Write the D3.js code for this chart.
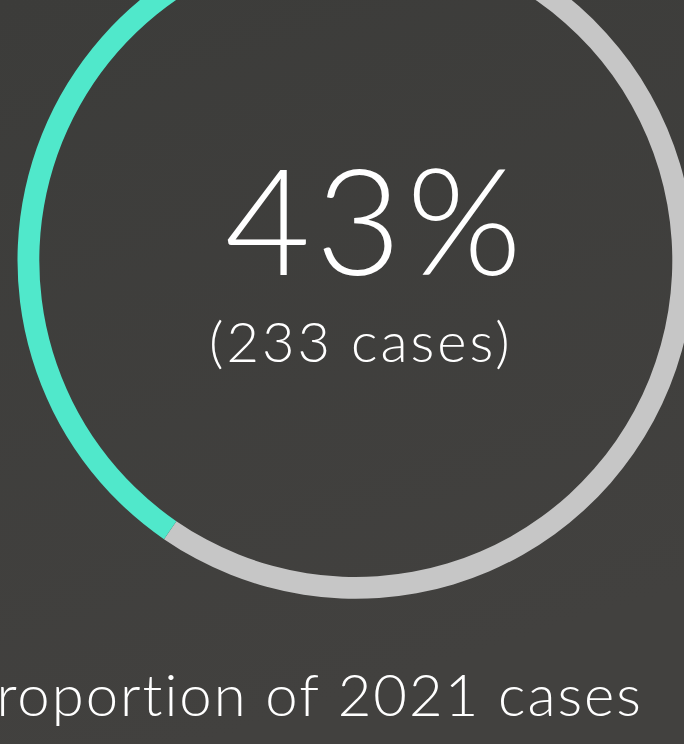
<!DOCTYPE html>
<html>
<head>
<meta charset="utf-8">
<script src="https://cdn.jsdelivr.net/npm/d3@7"></script>
<style>
  html, body { margin: 0; padding: 0; background: #3e3e3c; overflow: hidden; }
  svg { display: block; }
  text { font-family: Lato, "Open Sans", sans-serif; font-weight: 300; fill: #ffffff; font-variant-ligatures: none; }
</style>
</head>
<body>
<svg width="684" height="744"></svg>
<script>
const categories = ["Other cases", "2021 cases"];
const caseCounts = [309, 233];
const colors = ["#c6c6c6", "#50e8cb"];
const bigLabel = "43%";
const subLabel = "(233 cases)";
const caption = "Proportion of 2021 cases";

const svg = d3.select("svg");
const width = +svg.attr("width");
const height = +svg.attr("height");

const defs = svg.append("defs");
const grad = defs.append("linearGradient")
  .attr("id", "bg")
  .attr("x1", 0).attr("y1", 0).attr("x2", 0.3).attr("y2", 1);
grad.append("stop").attr("offset", 0).attr("stop-color", "#3c3c3a");
grad.append("stop").attr("offset", 1).attr("stop-color", "#42413f");

svg.append("rect")
  .attr("width", width)
  .attr("height", height)
  .attr("fill", "url(#bg)");

const cx = 355.8, cy = 260.5;
const g = svg.append("g").attr("transform", `translate(${cx},${cy})`);

const data = categories.map((c, i) => ({ name: c, value: caseCounts[i], color: colors[i] }));

// gray comes first, the teal share ends just past the top
const offset = 9.3 * Math.PI / 180;
const pie = d3.pie()
  .sort(null)
  .value(d => d.value)
  .startAngle(offset)
  .endAngle(offset + 2 * Math.PI);

const arc = d3.arc()
  .innerRadius(316.5)
  .outerRadius(338.3);

g.selectAll("path")
  .data(pie(data))
  .join("path")
  .attr("d", arc)
  .attr("fill", d => d.data.color);

g.append("text")
  .attr("x", 20)
  .attr("y", 14)
  .attr("text-anchor", "middle")
  .style("font-size", "148px")
  .style("letter-spacing", "5px")
  .text(bigLabel);

g.append("text")
  .attr("x", 5)
  .attr("y", 101)
  .attr("text-anchor", "middle")
  .style("font-size", "56px")
  .style("letter-spacing", "3px")
  .text(subLabel);

svg.append("text")
  .attr("x", 643)
  .attr("y", 716)
  .attr("text-anchor", "end")
  .style("font-size", "58px")
  .style("letter-spacing", "2px")
  .text(caption);
</script>
</body>
</html>
